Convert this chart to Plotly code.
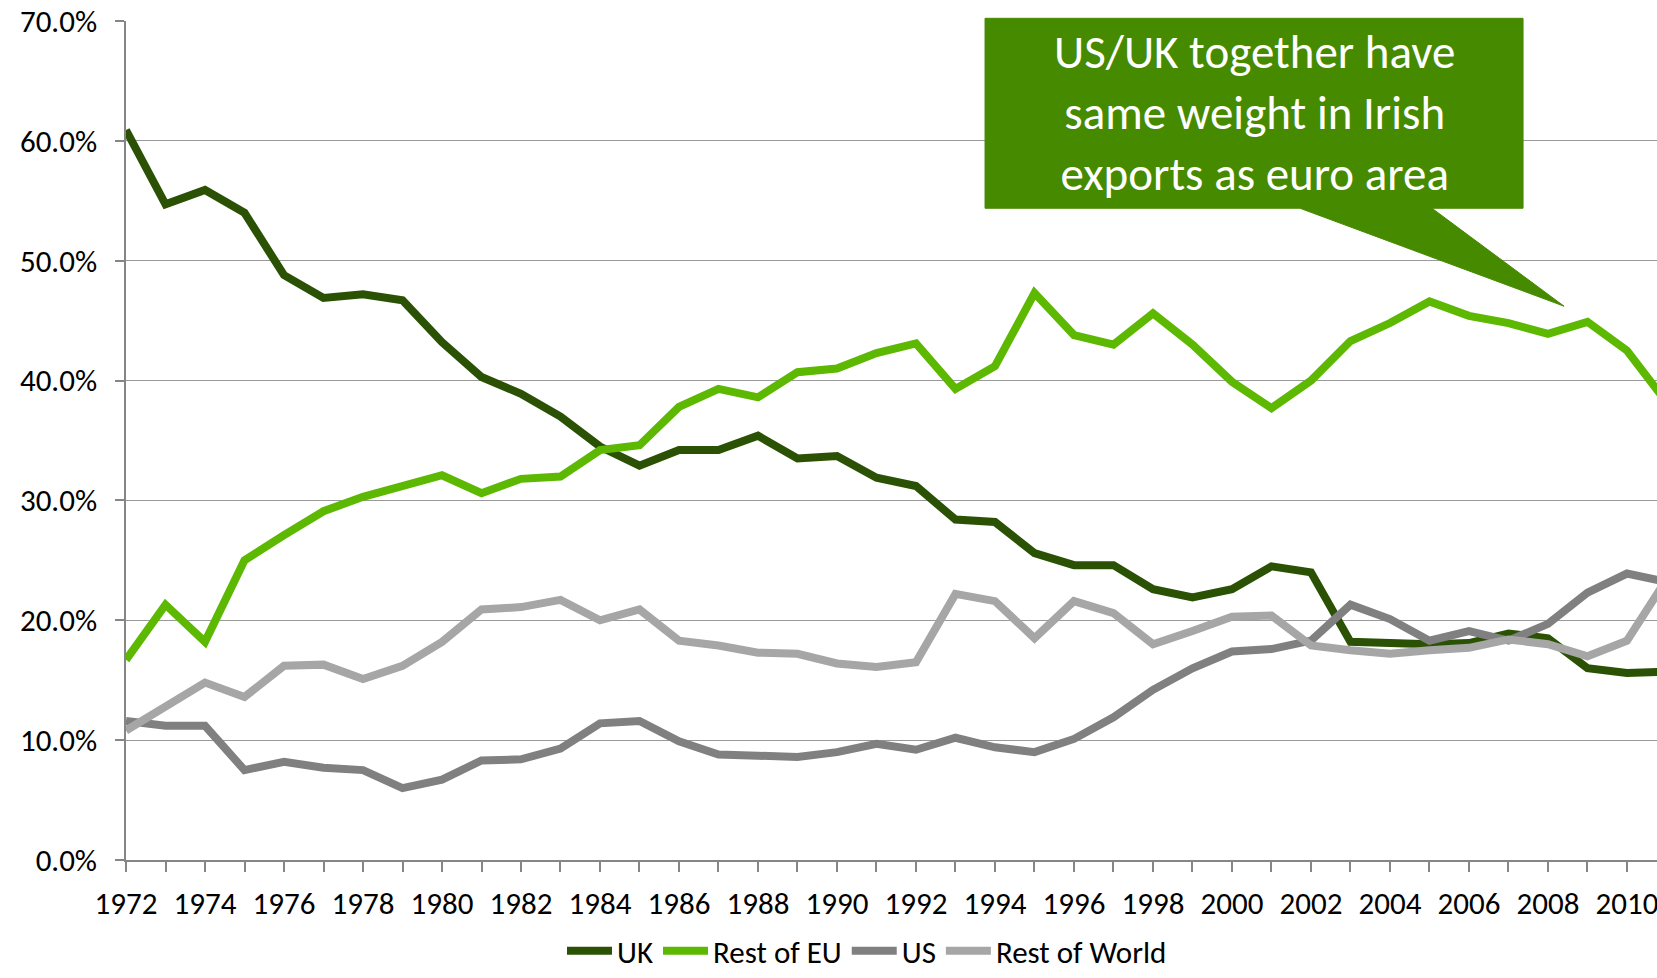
import plotly.graph_objects as go

years = list(range(1972, 2012))

uk = [60.9, 54.7, 55.9, 54.0, 48.8, 46.9, 47.2, 46.7, 43.2, 40.3,
      38.9, 37.0, 34.5, 32.9, 34.2, 34.2, 35.4, 33.5, 33.7, 31.9,
      31.2, 28.4, 28.2, 25.6, 24.6, 24.6, 22.6, 21.9, 22.6, 24.5,
      24.0, 18.2, 18.1, 18.0, 18.1, 18.9, 18.5, 16.0, 15.6, 15.7]

rest_eu = [16.7, 21.3, 18.2, 25.0, 27.1, 29.1, 30.3, 31.2, 32.1, 30.6,
           31.8, 32.0, 34.2, 34.6, 37.8, 39.3, 38.6, 40.7, 41.0, 42.3,
           43.1, 39.3, 41.2, 47.3, 43.8, 43.0, 45.6, 43.0, 39.9, 37.7,
           40.0, 43.3, 44.8, 46.6, 45.4, 44.8, 43.9, 44.9, 42.5, 38.2]

us = [11.6, 11.2, 11.2, 7.5, 8.2, 7.7, 7.5, 6.0, 6.7, 8.3,
      8.4, 9.3, 11.4, 11.6, 9.9, 8.8, 8.7, 8.6, 9.0, 9.7,
      9.2, 10.2, 9.4, 9.0, 10.1, 11.9, 14.2, 16.0, 17.4, 17.6,
      18.3, 21.3, 20.1, 18.3, 19.1, 18.3, 19.7, 22.3, 23.9, 23.2]

rest_world = [10.8, 12.8, 14.8, 13.6, 16.2, 16.3, 15.1, 16.2, 18.2, 20.9,
              21.1, 21.7, 20.0, 20.9, 18.3, 17.9, 17.3, 17.2, 16.4, 16.1,
              16.5, 22.2, 21.6, 18.5, 21.6, 20.6, 18.0, 19.1, 20.3, 20.4,
              17.9, 17.5, 17.2, 17.5, 17.7, 18.4, 18.0, 17.0, 18.3, 23.4]

series = [
    ("UK", uk, "#2B5204"),
    ("Rest of EU", rest_eu, "#5CB800"),
    ("US", us, "#808080"),
    ("Rest of World", rest_world, "#A6A6A6"),
]

callout_text = "US/UK together have<br>same weight in Irish<br>exports as euro area"

FONT = "Carlito, 'Liberation Sans Narrow', 'Open Sans', sans-serif"

fig = go.Figure()
for name, vals, col in series:
    fig.add_trace(go.Scatter(
        x=years, y=[v / 100 for v in vals], name=name, mode="lines",
        line=dict(color=col, width=8),
    ))

# callout box with pointer (paper coords)
L, R, T, B = 0.5611, 0.9125, 1.0032, 0.7768
b1, b2, tx, ty = 0.7668, 0.8530, 0.9393, 0.6601
path = (f"M{L},{T} L{R},{T} L{R},{B} L{b2},{B} L{tx},{ty} "
        f"L{b1},{B} L{L},{B} Z")
fig.add_shape(type="path", xref="paper", yref="paper", path=path,
              fillcolor="#468A00", line=dict(color="#468A00", width=1),
              layer="above")
fig.add_annotation(xref="paper", yref="paper", x=(L + R) / 2, y=(T + B) / 2,
                   text=callout_text, showarrow=False,
                   font=dict(family=FONT, size=47, color="white"),
                   xanchor="center", yanchor="middle", align="center")

fig.update_layout(
    width=1657, height=978,
    margin=dict(l=126, r=0, t=21, b=118),
    plot_bgcolor="white", paper_bgcolor="white",
    font=dict(family=FONT, size=31, color="#000000"),
    showlegend=True,
    legend=dict(orientation="h", x=0.484, xanchor="center",
                yref="container", y=-0.006, yanchor="bottom",
                font=dict(size=31), itemwidth=45, tracegroupgap=0),
    xaxis=dict(
        range=[1972, 2010.76], tick0=1972, dtick=2,
        showgrid=False, zeroline=False,
        showline=True, linecolor="#868686", linewidth=1.5,
        ticks="outside", ticklen=10, tickcolor="#868686", tickwidth=1.5,
        minor=dict(dtick=1, tick0=1972, ticks="outside", ticklen=10,
                   tickcolor="#868686", tickwidth=1.5, showgrid=False),
        ticklabelstandoff=5, automargin=False, ticklabeloverflow="allow",
        tickfont=dict(size=31),
    ),
    yaxis=dict(
        range=[0, 0.70], dtick=0.1, tickformat=".1%",
        showgrid=True, gridcolor="#999999", gridwidth=1.3,
        zeroline=False,
        showline=True, linecolor="#868686", linewidth=1.5,
        ticks="outside", ticklen=9, tickcolor="#868686", tickwidth=1.5,
        ticklabelstandoff=12, automargin=False,
        tickfont=dict(size=31),
    ),
)

fig.write_html(
    "out.html",
    config={"displayModeBar": False},
    post_script="document.body.style.margin='0';document.body.style.padding='0';",
)
